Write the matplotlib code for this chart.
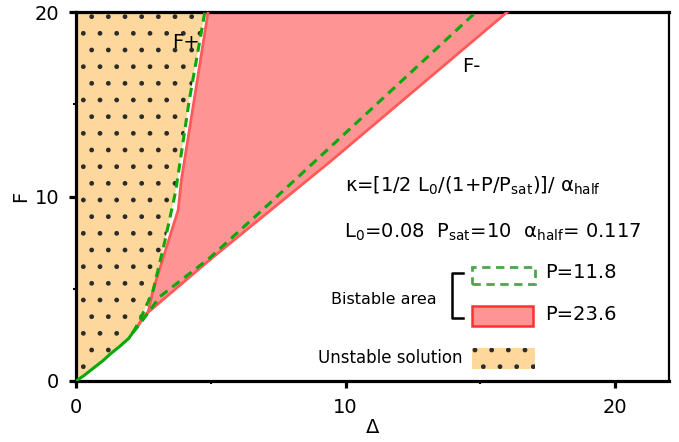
import matplotlib
matplotlib.use("Agg")
import matplotlib.pyplot as plt
from matplotlib.patches import Rectangle
import numpy as np

plt.rcParams['font.family'] = ['DejaVu Sans']
plt.rcParams['mathtext.default'] = 'regular'
plt.rcParams['hatch.linewidth'] = 1.0

# ---- data ----
# P = 23.6 (red) boundaries of the bistable area
red_fplus_x = [2.3, 2.68, 2.86, 3.79, 3.91, 4.38, 4.9]
red_fplus_y = [3.0, 3.76, 4.93, 9.27, 10.9, 15.2, 20.0]
red_fminus_x = [2.3, 2.49, 4.96, 9.52, 16.0]
red_fminus_y = [3.0, 3.49, 6.56, 12.0, 20.0]

# P = 11.8 (green) boundaries
green_low_x = [0.0, 0.3, 0.64, 1.0, 1.26, 1.6, 1.95, 2.1]
green_low_y = [0.0, 0.3, 0.69, 1.1, 1.45, 1.85, 2.3, 2.6]
green_fplus_x = [2.1, 2.37, 2.86, 3.3, 3.7, 4.2, 4.78]
green_fplus_y = [2.6, 3.3, 4.9, 7.6, 10.3, 15.2, 20.0]
green_fminus_x = [2.1, 2.35, 3.11, 4.96, 7.31, 14.84]
green_fminus_y = [2.6, 3.05, 4.57, 6.67, 9.8, 20.0]

x_ticks = [0, 10, 20]
y_ticks = [0, 10, 20]
x_minor = [5, 15]
y_minor = [5, 15]
x_lim = (0, 22)
y_lim = (0, 20)

ORANGE = '#FDD79B'
DOT = '#2b2b2b'
RED_FILL = '#FF9494'
RED_LINE = '#FF5A5A'
GREEN = '#0AA80A'

fig = plt.figure(figsize=(6.79, 4.42), dpi=100)
L, R, B, T = 76, 669, 381, 12
W, H = 679, 442
ax = fig.add_axes([L / W, 1 - B / H, (R - L) / W, (B - T) / H])
ax.set_xlim(*x_lim)
ax.set_ylim(*y_lim)

# unstable (orange, dotted) region
ox = [0.0] + green_low_x + green_fplus_x[1:] + [0.0]
oy = [y_lim[1]] + green_low_y + green_fplus_y[1:] + [y_lim[1]]
ax.fill(ox, oy, facecolor=ORANGE, edgecolor='none', lw=0, zorder=1)
ax.fill(ox, oy, facecolor='none', edgecolor=DOT, lw=0, hatch='.', zorder=1.1)

# bistable area P=23.6 (red)
rx = red_fplus_x + red_fminus_x[::-1]
ry = red_fplus_y + red_fminus_y[::-1]
ax.fill(rx, ry, facecolor=RED_FILL, edgecolor='none', zorder=2)
ax.plot(red_fplus_x, red_fplus_y, color=RED_LINE, lw=2, zorder=3)
ax.plot(red_fminus_x, red_fminus_y, color=RED_LINE, lw=2, zorder=3)

# P=11.8 (green)
ax.plot(green_low_x, green_low_y, color=GREEN, lw=2.2, zorder=4, solid_capstyle='butt')
ax.plot(green_fplus_x, green_fplus_y, color=GREEN, lw=2.2, ls=(0, (3, 2)), zorder=4)
ax.plot(green_fminus_x, green_fminus_y, color=GREEN, lw=2.2, ls=(0, (3, 2)), zorder=4)

# axes styling
for s in ['left', 'bottom', 'top']:
    ax.spines[s].set_linewidth(2.3)
ax.spines['right'].set_linewidth(1.6)
ax.set_xticks(x_ticks)
ax.set_yticks(y_ticks)
ax.set_xticks(x_minor, minor=True)
ax.set_yticks(y_minor, minor=True)
ax.tick_params(which='major', length=5, width=2.3, labelsize=14, direction='out', pad=7)
ax.tick_params(which='minor', length=2.5, width=1.5, direction='out')
ax.set_xlabel('Δ', fontsize=14, labelpad=1)
ax.set_ylabel('F', fontsize=14, labelpad=3)

def fx(px):
    return (px - L) / (R - L)

def fy(py):
    return (B - py) / (B - T)

tr = ax.transAxes
ax.text(fx(172), fy(42), 'F+', fontsize=14, va='center', ha='left', transform=tr, zorder=6)
ax.text(fx(462), fy(66), 'F-', fontsize=14, va='center', ha='left', transform=tr, zorder=6)

ax.text(fx(345), fy(186), r'κ=[1/2 L$_0$/(1+P/P$_{sat}$)]/ α$_{half}$', fontsize=14,
        va='center', ha='left', transform=tr)
ax.text(fx(344), fy(232), r'L$_0$=0.08  P$_{sat}$=10  α$_{half}$= 0.117', fontsize=14,
        va='center', ha='left', transform=tr)

# legend entries
ax.add_patch(Rectangle((fx(472), fy(284)), fx(535) - fx(472), fy(267) - fy(284),
                       transform=tr, facecolor='none', edgecolor='#4CA64C', lw=2,
                       ls=(0, (3, 2)), zorder=5))
ax.text(fx(545), fy(272), 'P=11.8', fontsize=14, va='center', ha='left', transform=tr)
ax.add_patch(Rectangle((fx(472), fy(326)), fx(533) - fx(472), fy(306) - fy(326),
                       transform=tr, facecolor=RED_FILL, edgecolor='#FF3030', lw=1.8, zorder=5))
ax.text(fx(545), fy(315), 'P=23.6', fontsize=14, va='center', ha='left', transform=tr)

# bracket
ax.plot([fx(463), fx(452), fx(452), fx(463)], [fy(273), fy(273), fy(318), fy(318)],
        color='black', lw=1.8, transform=tr)
ax.text(fx(437), fy(300), 'Bistable area', fontsize=11.5, va='center', ha='right', transform=tr)

ax.add_patch(Rectangle((fx(472), fy(369)), fx(535) - fx(472), fy(348) - fy(369),
                       transform=tr, facecolor=ORANGE, edgecolor='none', zorder=5))
ax.add_patch(Rectangle((fx(472), fy(369)), fx(535) - fx(472), fy(348) - fy(369),
                       transform=tr, facecolor='none', edgecolor=DOT, lw=0, hatch='.', zorder=5.1))
ax.text(fx(463), fy(358), 'Unstable solution', fontsize=12, va='center', ha='right', transform=tr)

fig.savefig('out.png', dpi=100)
